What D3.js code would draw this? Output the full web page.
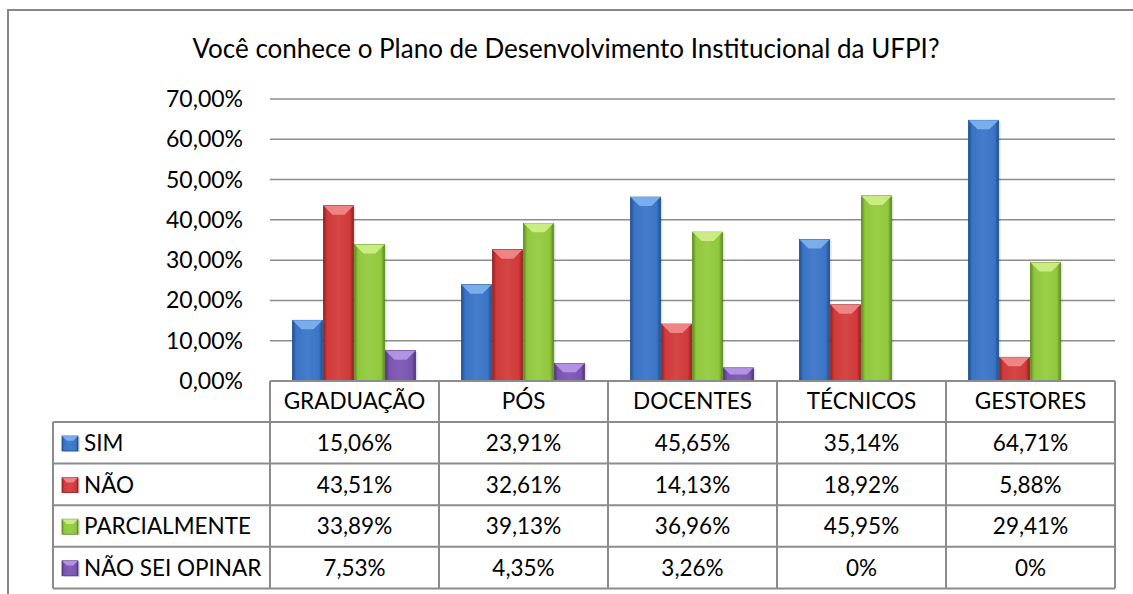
<!DOCTYPE html>
<html>
<head>
<meta charset="utf-8">
<script src="https://cdn.jsdelivr.net/npm/d3@7"></script>
<style>
  body { margin: 0; background: #fff; }
  text { font-family: Lato, "Open Sans", sans-serif; fill: #000; }
</style>
</head>
<body>
<div id="container"></div>
<script>
// chart data
const categories = ['GRADUAÇÃO', 'PÓS', 'DOCENTES', 'TÉCNICOS', 'GESTORES']
const series = ['SIM', 'NÃO', 'PARCIALMENTE', 'NÃO SEI OPINAR']
const sim = [0.1506, 0.2391, 0.4565, 0.3514, 0.6471]
const nao = [0.4351, 0.3261, 0.1413, 0.1892, 0.0588]
const parcialmente = [0.3389, 0.3913, 0.3696, 0.4595, 0.2941]
const naoSei = [0.0753, 0.0435, 0.0326, 0, 0]
const yTicks = [0, 0.1, 0.2, 0.3, 0.4, 0.5, 0.6, 0.7]
const title = 'Você conhece o Plano de Desenvolvimento Institucional da UFPI?'

const values = [sim, nao, parcialmente, naoSei]
// base, light, dark
const colors = [
  ['#3a74c4', '#80b3f0', '#1f4f8f'],
  ['#d03a3a', '#f28c8c', '#932020'],
  ['#90c83d', '#cff08a', '#5e8a1f'],
  ['#7a55b0', '#b798e8', '#4f3378']
]

const w = 1133
const h = 594

const svg = d3.select('#container')
  .append('svg')
  .attr('width', w)
  .attr('height', h)

const defs = svg.append('defs')
colors.forEach((c, i) => {
  const g = defs.append('linearGradient')
    .attr('id', 'grad' + i)
    .attr('x1', 0).attr('x2', 1).attr('y1', 0).attr('y2', 0)
  g.append('stop').attr('offset', '0%').attr('stop-color', c[2])
  g.append('stop').attr('offset', '12%').attr('stop-color', c[0])
  g.append('stop').attr('offset', '50%').attr('stop-color', d3.interpolateRgb(c[0], c[1])(0.15))
  g.append('stop').attr('offset', '88%').attr('stop-color', c[0])
  g.append('stop').attr('offset', '100%').attr('stop-color', c[2])
})

// outer frame (cropped on right/bottom)
svg.append('path')
  .attr('d', `M8,${h + 5} L8,10 L${w + 5},10`)
  .attr('fill', 'none')
  .attr('stroke', '#868686')
  .attr('stroke-width', 2)

// title
svg.append('text')
  .attr('x', 566)
  .attr('y', 58)
  .attr('text-anchor', 'middle')
  .attr('font-size', 26)
  .text(title)

const plotLeft = 270
const plotRight = 1115
const plotTop = 99
const plotBottom = 381

const x0 = d3.scaleBand()
  .domain(categories)
  .range([plotLeft, plotRight])

const x1 = d3.scaleBand()
  .domain(series)
  .range([22.5, x0.bandwidth() - 22.5])

const y = d3.scaleLinear()
  .domain([0, 0.7])
  .range([plotBottom, plotTop])

const fmtLocale = d3.formatLocale({ decimal: ',', thousands: '.', grouping: [3], currency: ['R$', ''] })
const pct = fmtLocale.format('.2%')

// gridlines
svg.append('g')
  .selectAll('line')
  .data(yTicks)
  .join('line')
  .attr('x1', plotLeft)
  .attr('x2', plotRight)
  .attr('y1', d => y(d))
  .attr('y2', d => y(d))
  .attr('stroke', '#8c8c8c')
  .attr('stroke-width', 1.5)

// y axis labels
svg.append('g')
  .selectAll('text')
  .data(yTicks)
  .join('text')
  .attr('x', 243)
  .attr('y', d => y(d) + 8)
  .attr('text-anchor', 'end')
  .attr('font-size', 23)
  .text(d => pct(d))

// bars
const bw = x1.bandwidth()
const drawBar = (g, bx, by, bwid, bh, i) => {
  g.append('rect')
    .attr('x', bx + 2).attr('y', by + 1)
    .attr('width', bwid).attr('height', bh)
    .attr('fill', '#000').attr('opacity', 0.12)
  g.append('rect')
    .attr('x', bx).attr('y', by)
    .attr('width', bwid).attr('height', bh)
    .attr('fill', `url(#grad${i})`)
    .attr('stroke', colors[i][2])
    .attr('stroke-width', 0.8)
  const bev = Math.min(bwid * 0.3, bh / 2)
  g.append('path')
    .attr('d', `M${bx},${by} L${bx + bwid},${by} L${bx + bwid - bev},${by + bev} L${bx + bev},${by + bev} Z`)
    .attr('fill', colors[i][1])
    .attr('opacity', 0.9)
}

series.forEach((s, i) => {
  const g = svg.append('g')
  categories.forEach((c, j) => {
    const v = values[i][j]
    if (v <= 0) return
    const bx = x0(c) + x1(s)
    drawBar(g, bx, y(v), bw - 1, plotBottom - y(v), i)
  })
})

// data table
const tableLeft = 53
const rowH = 41.6
const headTop = plotBottom
const headBottom = 422
const tableBottom = headBottom + rowH * series.length
const tbl = svg.append('g')
const lineColor = '#8c8c8c'

// horizontal lines
tbl.append('line')
  .attr('x1', plotLeft).attr('x2', plotRight)
  .attr('y1', headTop).attr('y2', headTop)
  .attr('stroke', lineColor).attr('stroke-width', 2)
d3.range(series.length + 1).forEach(k => {
  tbl.append('line')
    .attr('x1', tableLeft).attr('x2', plotRight)
    .attr('y1', headBottom + k * rowH).attr('y2', headBottom + k * rowH)
    .attr('stroke', lineColor).attr('stroke-width', 2)
})
// vertical lines
tbl.append('line')
  .attr('x1', tableLeft).attr('x2', tableLeft)
  .attr('y1', headBottom).attr('y2', tableBottom)
  .attr('stroke', lineColor).attr('stroke-width', 2)
categories.forEach(c => {
  tbl.append('line')
    .attr('x1', x0(c)).attr('x2', x0(c))
    .attr('y1', headTop).attr('y2', tableBottom)
    .attr('stroke', lineColor).attr('stroke-width', 2)
})
tbl.append('line')
  .attr('x1', plotRight).attr('x2', plotRight)
  .attr('y1', headTop).attr('y2', tableBottom)
  .attr('stroke', lineColor).attr('stroke-width', 2)

// header labels
tbl.selectAll('text.head')
  .data(categories)
  .join('text')
  .attr('class', 'head')
  .attr('x', d => x0(d) + x0.bandwidth() / 2)
  .attr('y', headTop + 28)
  .attr('text-anchor', 'middle')
  .attr('font-size', 22.5)
  .text(d => d)

// rows
series.forEach((s, i) => {
  const ry = headBottom + i * rowH
  drawBar(tbl, 62, ry + 14, 16, 15, i)
  tbl.append('text')
    .attr('x', 84)
    .attr('y', ry + 29)
    .attr('font-size', 22.5)
    .text(s)
  categories.forEach((c, j) => {
    const v = values[i][j]
    tbl.append('text')
      .attr('x', x0(c) + x0.bandwidth() / 2)
      .attr('y', ry + 29)
      .attr('text-anchor', 'middle')
      .attr('font-size', 22.5)
      .text(v === 0 ? '0%' : pct(v))
  })
})
</script>
</body>
</html>
